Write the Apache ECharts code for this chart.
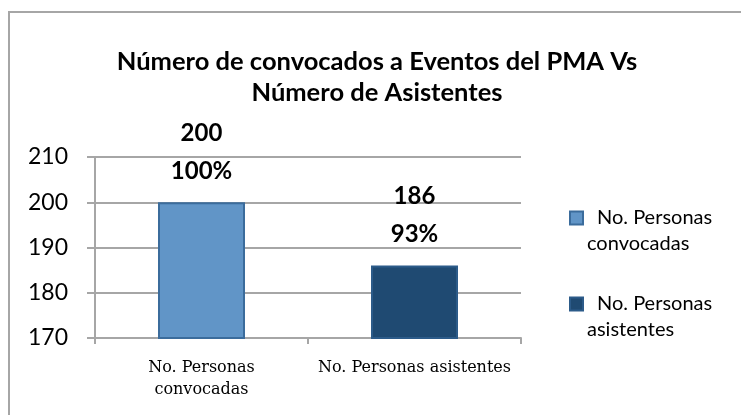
<!DOCTYPE HTML>
<html>
<head>
<meta charset="utf-8">
<title>Número de convocados</title>
<script src="https://cdn.jsdelivr.net/npm/echarts@6/dist/echarts.min.js"></script>
<style>
html, body { margin:0; padding:0; background:#fff; }
#main { width:741px; height:415px; }
</style>
</head>
<body>
<div id="main"></div>
<script type="text/javascript">
// datos
var categorias = ['No. Personas convocadas', 'No. Personas asistentes'];
var valores = [200, 186];
var porcentajes = ['100%', '93%'];
var colores = ['#6195c7', '#1f4a72'];
var bordes = ['#3b6c9c', '#2c5b89'];

var myChart = echarts.init(document.getElementById('main'));

// una serie por categoria, para que la leyenda muestre ambas
var series = [];
for (var i = 0; i < categorias.length; i++) {
	var d = [];
	for (var j = 0; j < categorias.length; j++) d.push(i == j ? valores[j] : '-');
	series.push({
		name: categorias[i],
		type: 'bar',
		data: d,
		barWidth: 87,
		barGap: '-100%',
		itemStyle: { color: colores[i], borderColor: bordes[i], borderWidth: 2 },
		label: {
			show: true,
			position: 'top',
			distance: 12,
			fontFamily: 'Lato',
			fontWeight: 'bold',
			fontSize: 24,
			lineHeight: 38,
			color: '#000',
			formatter: function (p) { return p.value + '\n' + porcentajes[p.dataIndex]; }
		}
	});
}

var rich = {
	g: { width: 15 },
	p: { width: 16 },
	t: { fontFamily: 'Lato', fontSize: 20, color: '#000', lineHeight: 26 }
};
for (var k = 0; k < categorias.length; k++) {
	rich['m' + k] = { width: 11, height: 11, backgroundColor: colores[k], borderColor: bordes[k], borderWidth: 2 };
}

var chartOption = {
	animation: false,
	title: {
		text: 'Número de convocados a Eventos del PMA Vs\nNúmero de Asistentes',
		left: 377,
		top: 46,
		padding: 0,
		textAlign: 'center',
		textStyle: { fontFamily: 'Lato', fontWeight: 'bold', fontSize: 25.5, lineHeight: 31, color: '#000' }
	},
	legend: {
		orient: 'vertical',
		left: 561,
		top: 203,
		icon: 'none',
		itemWidth: 0,
		itemHeight: 0,
		itemGap: 40,
		selectedMode: false,
		textStyle: { rich: rich },
		formatter: function (name) {
			var n = categorias.indexOf(name);
			var partes = name.split('Personas ');
			return '{m' + n + '|}{g|}{t|' + partes[0] + 'Personas}\n{p|}{t|' + partes[1] + '}';
		}
	},
	grid: { left: 95, right: 220, top: 157, bottom: 77 },
	xAxis: {
		type: 'category',
		data: categorias,
		axisLine: { lineStyle: { color: '#a6a6a6', width: 2 } },
		axisTick: { show: true, length: 6, lineStyle: { color: '#a6a6a6', width: 2 } },
		axisLabel: {
			interval: 0,
			fontFamily: 'DejaVu Serif',
			fontSize: 16,
			lineHeight: 22,
			color: '#000',
			margin: 19,
			formatter: function (v) { return v == categorias[0] ? 'No. Personas\nconvocadas' : v; }
		}
	},
	yAxis: {
		type: 'value',
		min: 170,
		max: 210,
		interval: 10,
		axisLine: { show: true, lineStyle: { color: '#a6a6a6', width: 2 } },
		axisTick: { show: true, length: 8, lineStyle: { color: '#a6a6a6', width: 2 } },
		splitLine: { lineStyle: { color: '#a6a6a6', width: 2 } },
		axisLabel: { fontFamily: 'Lato', fontSize: 23, color: '#000', margin: 27 }
	},
	graphic: [{
		type: 'rect',
		shape: { x: 9, y: 12, width: 1000, height: 1000 },
		style: { fill: 'none', stroke: '#a6a6a6', lineWidth: 2 },
		silent: true
	}],
	series: series
};
myChart.setOption(chartOption);
</script>
</body>
</html>
